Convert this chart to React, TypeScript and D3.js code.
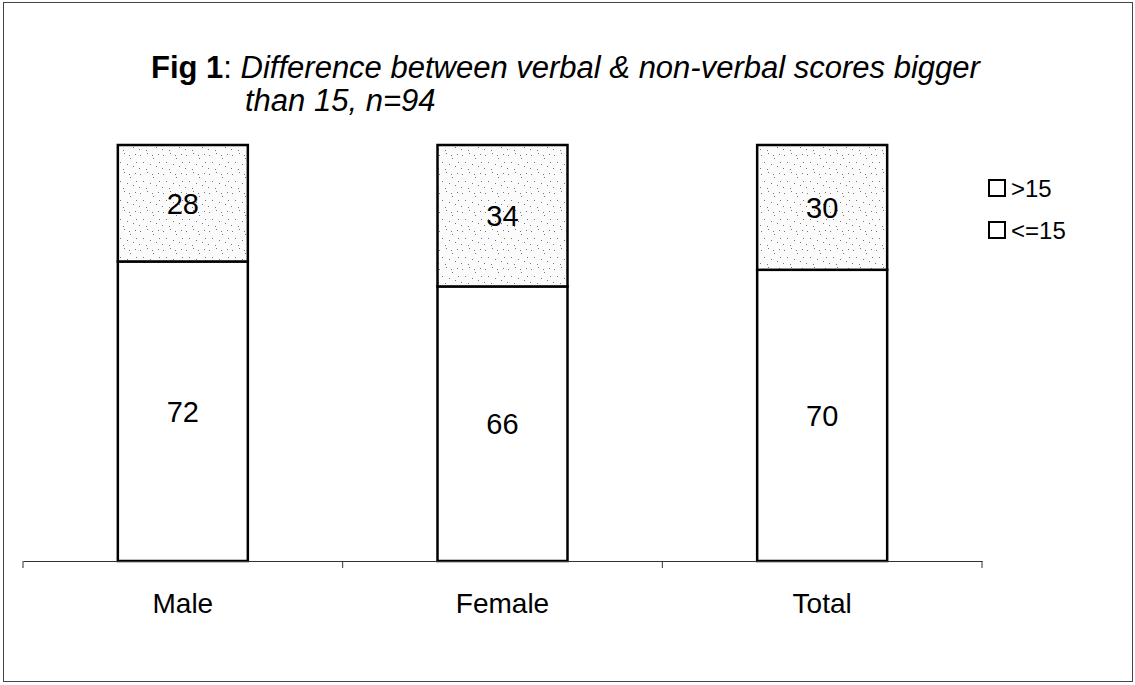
import { useEffect, useRef } from "react";
import * as d3 from "d3";

// chart data
const categories = ["Male", "Female", "Total"];
const above15 = [28, 34, 30];
const upTo15 = [72, 66, 70];
const seriesNames = [">15", "<=15"];

const width = 1135;
const height = 685;
const margin = { top: 145, right: 153, bottom: 124, left: 23 };

const drawChart = (el: SVGSVGElement) => {
    const svg = d3.select(el);
    svg.selectAll("*").remove();

    const font = "'Liberation Sans', Arial, sans-serif";
    const valueSize = 29;

    // stipple pattern for the top segment
    const defs = svg.append("defs");
    const pat = defs.append("pattern")
        .attr("id", "stipple")
        .attr("patternUnits", "userSpaceOnUse")
        .attr("width", 23)
        .attr("height", 19);
    pat.append("rect").attr("width", 23).attr("height", 19).attr("fill", "#fbfbfb");
    const dots = [[2, 3], [9, 1], [15, 6], [20, 2], [5, 10], [12, 12], [18, 14], [1, 16], [8, 17], [21, 10], [14, 3]];
    pat.selectAll("rect.dot")
        .data(dots)
        .join("rect")
        .attr("class", "dot")
        .attr("x", d => d[0])
        .attr("y", d => d[1])
        .attr("width", 1)
        .attr("height", 1)
        .attr("fill", "#777");

    // outer frame
    svg.append("rect")
        .attr("x", 3.5).attr("y", 2.5)
        .attr("width", 1129).attr("height", 679)
        .attr("fill", "white")
        .attr("stroke", "#444")
        .attr("stroke-width", 1);

    const x = d3.scaleBand()
        .domain(categories)
        .range([margin.left, width - margin.right])
        .paddingInner(0)
        .paddingOuter(0);

    const y = d3.scaleLinear()
        .domain([0, 100])
        .range([height - margin.bottom, margin.top]);

    const barW = 130;
    const rows = categories.map((c, i) => ({ c, low: upTo15[i], high: above15[i] }));

    const g = svg.append("g");

    // lower segment (<=15)
    g.selectAll("rect.low")
        .data(rows)
        .join("rect")
        .attr("class", "low")
        .attr("x", d => x(d.c)! + x.bandwidth() / 2 - barW / 2)
        .attr("y", d => y(d.low))
        .attr("width", barW)
        .attr("height", d => y(0) - y(d.low))
        .attr("fill", "white")
        .attr("stroke", "#000")
        .attr("stroke-width", 2.5);

    // upper segment (>15)
    g.selectAll("rect.high")
        .data(rows)
        .join("rect")
        .attr("class", "high")
        .attr("x", d => x(d.c)! + x.bandwidth() / 2 - barW / 2)
        .attr("y", d => y(d.low + d.high))
        .attr("width", barW)
        .attr("height", d => y(d.low) - y(d.low + d.high))
        .attr("fill", "url(#stipple)")
        .attr("stroke", "#000")
        .attr("stroke-width", 2.5);

    // value labels
    g.selectAll("text.lowv")
        .data(rows)
        .join("text")
        .attr("x", d => x(d.c)! + x.bandwidth() / 2)
        .attr("y", d => y(d.low / 2) + valueSize * 0.36)
        .attr("text-anchor", "middle")
        .style("font-family", font)
        .style("font-size", `${valueSize}px`)
        .text(d => d.low);

    g.selectAll("text.highv")
        .data(rows)
        .join("text")
        .attr("x", d => x(d.c)! + x.bandwidth() / 2)
        .attr("y", d => y(d.low + d.high / 2) + valueSize * 0.36)
        .attr("text-anchor", "middle")
        .style("font-family", font)
        .style("font-size", `${valueSize}px`)
        .text(d => d.high);

    // x axis
    const axis = svg.append("g")
        .attr("transform", `translate(0,${y(0)})`)
        .call(d3.axisBottom(x).tickSize(0).tickPadding(32).tickSizeOuter(0));
    axis.select(".domain").attr("stroke", "#333").attr("stroke-width", 1.2);
    axis.selectAll("text")
        .style("font-family", font)
        .style("font-size", "28px")
        .attr("fill", "#000");
    const bounds = [...categories.map(c => x(c)!), width - margin.right];
    axis.selectAll("line.sep")
        .data(bounds)
        .join("line")
        .attr("class", "sep")
        .attr("x1", d => d).attr("x2", d => d)
        .attr("y1", 0).attr("y2", 7)
        .attr("stroke", "#333");

    // title
    const title = svg.append("text")
        .attr("x", 151)
        .attr("y", 78)
        .style("font-family", font)
        .style("font-size", "31px");
    title.append("tspan").attr("font-weight", "bold").text("Fig 1");
    title.append("tspan").text(": ");
    title.append("tspan").attr("font-style", "italic").text("Difference between verbal & non-verbal scores bigger");
    svg.append("text")
        .attr("x", 245)
        .attr("y", 111)
        .style("font-family", font)
        .style("font-size", "31px")
        .attr("font-style", "italic")
        .text("than 15, n=94");

    // legend
    const legend = svg.append("g").attr("transform", "translate(989,180)");
    legend.selectAll("rect")
        .data(seriesNames)
        .join("rect")
        .attr("x", 0)
        .attr("y", (d, i) => i * 42)
        .attr("width", 16)
        .attr("height", 16)
        .attr("fill", "white")
        .attr("stroke", "#000")
        .attr("stroke-width", 2);
    legend.selectAll("text")
        .data(seriesNames)
        .join("text")
        .attr("x", 22)
        .attr("y", (d, i) => i * 42 + 17)
        .style("font-family", font)
        .style("font-size", "24px")
        .text(d => d);
};

export default function App() {
    const ref = useRef<SVGSVGElement>(null);
    useEffect(() => {
        if (ref.current) drawChart(ref.current);
    }, []);
    return (
        <svg
            ref={ref}
            width={width}
            height={height}
            style={{ position: "absolute", left: 0, top: 0, background: "white" }}
        />
    );
}
